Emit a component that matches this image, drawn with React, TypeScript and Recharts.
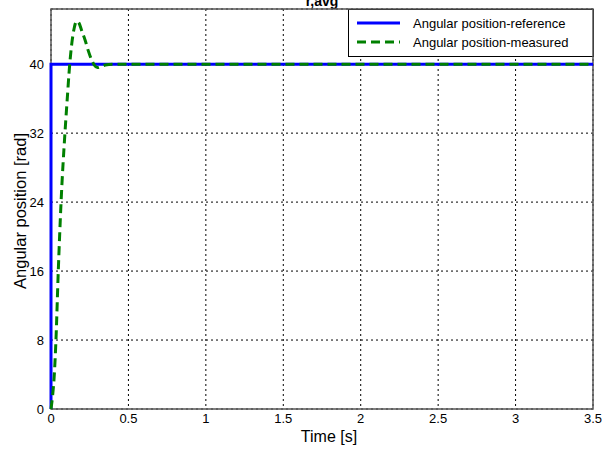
import React from 'react'
import { LineChart, Line, XAxis, YAxis, CartesianGrid, ReferenceArea } from 'recharts'

const xTicks = [0, 0.5, 1, 1.5, 2, 2.5, 3, 3.5]
const yTicks = [0, 8, 16, 24, 32, 40]
const seriesNames = ['Angular position-reference', 'Angular position-measured']

// reference: step to 40 at t = 0
const refTime = [0, 0, 3.5]
const refAngle = [0, 40, 40]

const measTime = [0, 0.01, 0.02, 0.032, 0.047, 0.065, 0.09, 0.105, 0.12, 0.135, 0.15, 0.165, 0.18, 0.2, 0.22, 0.24, 0.26, 0.28, 0.3, 0.32, 0.35, 0.4, 0.6, 1, 3.5]
const measAngle = [0, 1.5, 3.6, 8, 16, 24, 32, 36, 39.8, 42.5, 44.2, 45, 44.8, 43.8, 42.8, 41.6, 40.6, 39.9, 39.6, 39.7, 39.9, 40, 40, 40, 40]

const refData = refTime.map((t, i) => ({ t, v: refAngle[i] }))
const measData = measTime.map((t, i) => ({ t, v: measAngle[i] }))

const font = 'Liberation Sans, Arial, sans-serif'

export default function App() {
  return (
    <div style={{ position: 'absolute', left: 0, top: 0, width: 605, height: 450, background: '#fff' }}>
      <LineChart width={605} height={450} margin={{ top: 9, right: 12, bottom: 0, left: 0 }} style={{ fontFamily: font }}>
        <CartesianGrid stroke="#000" strokeDasharray="2 3" />
        <XAxis
          type="number"
          dataKey="t"
          domain={[0, 3.5]}
          ticks={xTicks}
          allowDuplicatedCategory={false}
          height={41}
          tickLine={false}
          tickSize={0}
          tickMargin={5}
          axisLine={false}
          tick={{ fill: '#000', fontSize: 13 }}
        />
        <YAxis
          type="number"
          dataKey="v"
          domain={[0, 46.4]}
          ticks={yTicks}
          width={51}
          tickLine={false}
          tickSize={0}
          tickMargin={7}
          axisLine={false}
          tick={{ fill: '#000', fontSize: 13 }}
        />
        <ReferenceArea x1={0} x2={3.5} y1={0} y2={46.4} fill="none" stroke="#555" strokeWidth={1.5} ifOverflow="visible" />
        <Line data={refData} dataKey="v" type="linear" stroke="#0000ff" strokeWidth={3} dot={false} isAnimationActive={false} name={seriesNames[0]} />
        <Line data={measData} dataKey="v" type="monotone" stroke="#008000" strokeWidth={3} strokeDasharray="9 5" dot={false} isAnimationActive={false} name={seriesNames[1]} />
        <g>
          <rect x={348.5} y={9.5} width={245} height={47} fill="#fff" stroke="#000" strokeWidth={1} />
          <line x1={357} x2={400} y1={23} y2={23} stroke="#0000ff" strokeWidth={3} />
          <line x1={357} x2={400} y1={42} y2={42} stroke="#008000" strokeWidth={3} strokeDasharray="9 5" />
          <text x={413} y={27.5} fontSize={13} fontFamily={font} fill="#000">{seriesNames[0]}</text>
          <text x={413} y={46.5} fontSize={13} fontFamily={font} fill="#000">{seriesNames[1]}</text>
        </g>
        <text x={20} y={211} transform="rotate(-90 20 211)" textAnchor="middle" dominantBaseline="central" fontSize={16.5} fontFamily={font} fill="#000">Angular position [rad]</text>
        <text x={329} y={442} textAnchor="middle" fontSize={16} fontFamily={font} fill="#000">Time [s]</text>
        <text x={322} y={6} textAnchor="middle" fontSize={14} fontWeight="bold" fontFamily={font} fill="#000">r,avg</text>
      </LineChart>
    </div>
  )
}
